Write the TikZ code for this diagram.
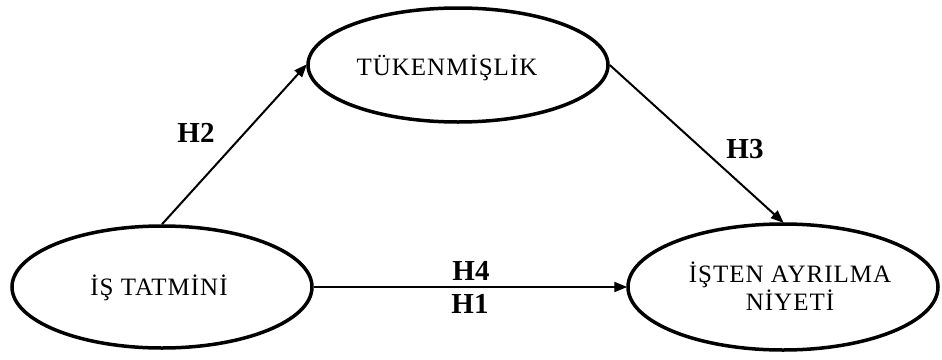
\documentclass[tikz,border=0pt]{standalone}
\usepackage{fontspec}
\setmainfont{Liberation Serif}
\newfontfamily\spacedserif[LetterSpace=4]{Liberation Serif}
\usetikzlibrary{shapes.geometric,arrows.meta}
\tikzset{
  ell/.style={ellipse, draw, line width=3.5pt, inner sep=0pt},
  ltxt/.style={font=\spacedserif\fontsize{25}{28}\selectfont, align=center, inner sep=0pt},
  hyp/.style={font=\fontsize{29}{32}\selectfont\bfseries, inner sep=0pt},
  conn/.style={line width=2pt, -{Triangle[length=13pt,width=10pt]}, shorten >=-1pt}
}
\begin{document}
\begin{tikzpicture}[x=1pt,y=-1pt]
\useasboundingbox (0,0) rectangle (942,359);
\node[ell, minimum width=300pt, minimum height=114pt] (tuk) at (458,65) {};
\node[ltxt] (tukt) at (447,68) {TÜKENMİŞLİK};
\node[ell, minimum width=300pt, minimum height=122pt] (is) at (162,287) {};
\node[ltxt] (ist) at (159,288) {İŞ TATMİNİ};
\node[ell, minimum width=310pt, minimum height=126pt] (ayr) at (783,287) {};
\node[ltxt] (ayrt) at (790,286) {İŞTEN AYRILMA\\NİYETİ};
\draw[conn] (is.north) -- (tuk.west);
\draw[conn] (tuk.east) -- (ayr.north);
\draw[conn] (is.east) -- (ayr.west);
\node[hyp] (h2) at (196,133) {H2};
\node[hyp] (h3) at (745,149) {H3};
\node[hyp] (h4) at (471,271) {H4};
\node[hyp] (h1) at (470,304) {H1};
\end{tikzpicture}
\end{document}
